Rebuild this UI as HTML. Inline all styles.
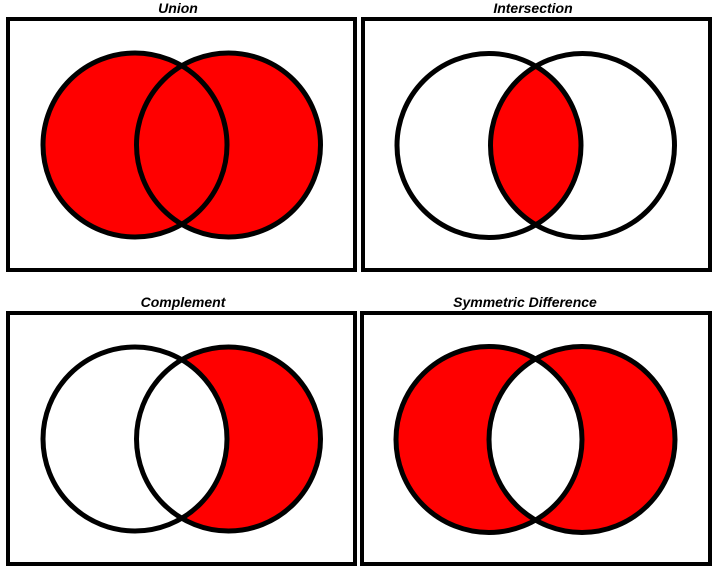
<!DOCTYPE html>
<html><head><meta charset="utf-8"><style>
html,body{margin:0;padding:0;background:#fff;width:720px;height:570px;overflow:hidden}
svg text{font-family:"Liberation Sans",Arial,sans-serif;font-weight:bold;font-style:italic;font-size:14px;fill:#000}
</style></head><body>
<svg width="720" height="570" viewBox="0 0 720 570" xmlns="http://www.w3.org/2000/svg">
<defs>
<clipPath id="cUA"><circle cx="489" cy="145.5" r="92"/></clipPath>
<clipPath id="cCL"><circle cx="135" cy="439" r="92"/></clipPath>
<clipPath id="cSL"><circle cx="489" cy="439.5" r="93"/></clipPath>
<mask id="mC"><rect x="0" y="0" width="720" height="570" fill="#fff"/><circle cx="135" cy="439" r="92" fill="#000"/></mask>
</defs>
<!-- titles -->
<text x="178" y="13" text-anchor="middle">Union</text>
<text x="533" y="13" text-anchor="middle">Intersection</text>
<text x="183" y="307" text-anchor="middle">Complement</text>
<text x="525" y="307" text-anchor="middle">Symmetric Difference</text>
<!-- boxes -->
<g fill="none" stroke="#000" stroke-width="4">
<rect x="8" y="19" width="347" height="251"/>
<rect x="363" y="19" width="347" height="251"/>
<rect x="8" y="313" width="347" height="251"/>
<rect x="362" y="313" width="348" height="251"/>
</g>
<!-- Union -->
<circle cx="135" cy="145" r="92" fill="#f00"/>
<circle cx="228.5" cy="145" r="92" fill="#f00"/>
<g fill="none" stroke="#000" stroke-width="5">
<circle cx="135" cy="145" r="92"/><circle cx="228.5" cy="145" r="92"/></g>
<!-- Intersection -->
<circle cx="582.5" cy="145.5" r="92" fill="#f00" clip-path="url(#cUA)"/>
<g fill="none" stroke="#000" stroke-width="5">
<circle cx="489" cy="145.5" r="92"/><circle cx="582.5" cy="145.5" r="92"/></g>
<!-- Complement -->
<circle cx="228.5" cy="439" r="92" fill="#f00" mask="url(#mC)"/>
<g fill="none" stroke="#000" stroke-width="5">
<circle cx="135" cy="439" r="92"/><circle cx="228.5" cy="439" r="92"/></g>
<!-- Symmetric difference -->
<circle cx="489" cy="439.5" r="93" fill="#f00"/>
<circle cx="582" cy="439.5" r="93" fill="#f00"/>
<circle cx="582" cy="439.5" r="93" fill="#fff" clip-path="url(#cSL)"/>
<g fill="none" stroke="#000" stroke-width="5">
<circle cx="489" cy="439.5" r="93"/><circle cx="582" cy="439.5" r="93"/></g>
</svg>
</body></html>
